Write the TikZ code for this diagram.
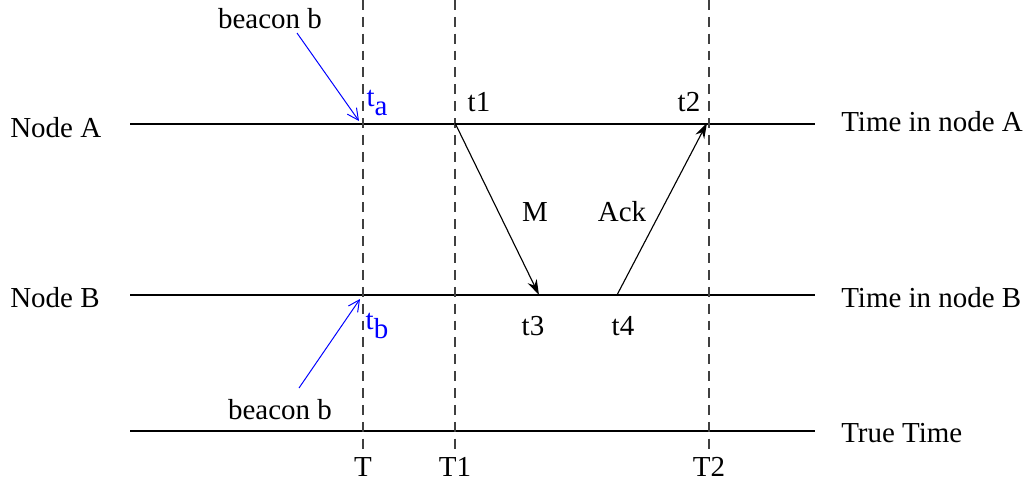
\documentclass[tikz,border=0pt]{standalone}
\usepackage{fontspec}
\setmainfont{Liberation Serif}
\usetikzlibrary{arrows.meta, positioning}
\definecolor{c1}{HTML}{000000}
\definecolor{c2}{HTML}{0000FF}
\definecolor{c3}{HTML}{404040}

\begin{document}
\begin{tikzpicture}[
    x=0.025cm, y=-0.025cm,
    every node/.style={font=\fontsize{20.6}{24}\selectfont, inner sep=0pt},
    lab/.style={text=c1},
    tick/.style={text=c2},
    timeline/.style={draw=c1, line width=0.8pt},
    marker/.style={draw=c3, line width=0.8pt, dash pattern=on 7pt off 5pt},
    msg/.style={-{Stealth[length=11pt, width=7pt]}, line width=0.8pt, color=c1},
    beacon/.style={-{Straight Barb[length=8pt, width=8pt]}, line width=0.7pt, color=c2},
]
\useasboundingbox (0,0) rectangle (1034,486);

% ================================================================ time lines
\coordinate (aw) at (130,124);  \coordinate (ae) at (815,124);
\coordinate (bw) at (130,295);  \coordinate (be) at (815,295);
\coordinate (tw) at (130,431);  \coordinate (te) at (815,431);
\draw[timeline] (aw) -- (ae);
\draw[timeline] (bw) -- (be);
\draw[timeline] (tw) -- (te);

\node[lab, anchor=west] (na) at (10,128) {Node A};
\node[lab, anchor=west] (nb) at (10,298) {Node B};
\node[lab, anchor=west] (ta) at (841,122) {Time in node A};
\node[lab, anchor=west] (tb) at (841,298) {Time in node B};
\node[lab, anchor=west] (tt) at (841,433) {True Time};

% ========================================================= true time marks
\draw[marker] (363,0) -- (363,455);
\draw[marker] (455,0) -- (455,455);
\draw[marker] (709,0) -- (709,455);

\node[lab] (T)  at (363,467) {T};
\node[lab] (T1) at (455,467) {T1};
\node[lab] (T2) at (709,467) {T2};

% ================================================================== beacons
\node[lab] (bca) at (270,19) {beacon b};
\node[lab] (bcb) at (280,410) {beacon b};
\coordinate (pa) at (359,121);
\coordinate (pb) at (360,299);
\draw[beacon] (297,33) -- (pa);
\draw[beacon] (299,388) -- (pb);

\node[tick] (tsa) at (377,103) {t\raisebox{-0.3em}{a}};
\node[tick] (tsb) at (377,326) {t\raisebox{-0.3em}{b}};

% ========================================================== message, reply
\coordinate (e1) at (455,123);
\coordinate (e3) at (539,295);
\coordinate (e4) at (617,295);
\coordinate (e2) at (707,123);
\draw[msg] (e1) -- (e3);
\draw[msg] (e4) -- (e2);

\node[lab] (m)   at (535,212) {M};
\node[lab] (ack) at (622,212) {Ack};

\node[lab] (t1) at (479,102) {t1};
\node[lab] (t2) at (689,102) {t2};
\node[lab] (t3) at (533,326) {t3};
\node[lab] (t4) at (623,326) {t4};

\end{tikzpicture}
\end{document}
